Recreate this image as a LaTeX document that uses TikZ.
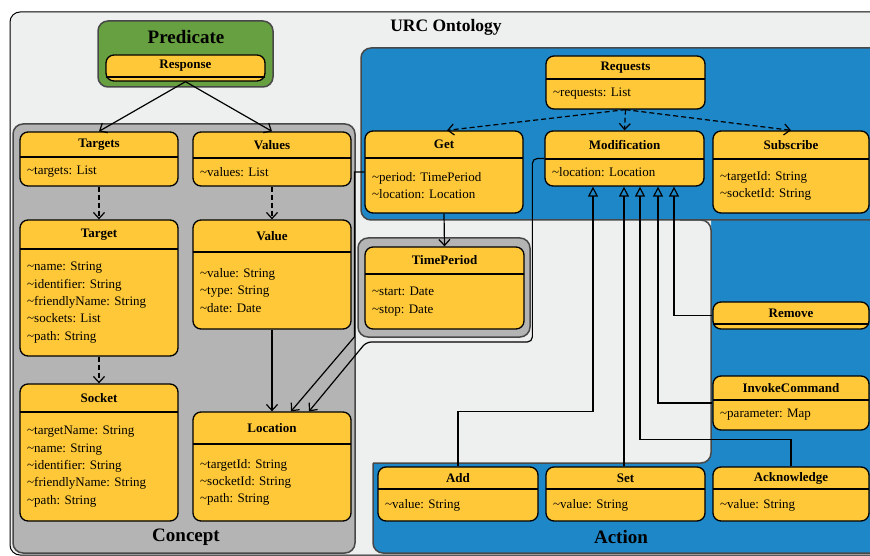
\documentclass[tikz,border=0pt]{standalone}
\usepackage{fontspec}
\setmainfont{Liberation Serif}
\usetikzlibrary{arrows.meta,calc}

\definecolor{classyellow}{RGB}{255,200,56}
\definecolor{actionblue}{RGB}{29,135,200}
\definecolor{predgreen}{RGB}{103,160,64}
\definecolor{conceptgray}{RGB}{180,180,180}
\definecolor{ontobg}{RGB}{238,239,239}
\definecolor{frameline}{RGB}{72,72,72}

\newcommand\tld{\textasciitilde}
% class box: name, left, top, right, bottom, divider, title, attributes
\newcommand\umlclass[8]{%
  \node[classbox, minimum width={(#4-#2)*1pt}, minimum height={(#5-#3)*1pt}]
    (#1) at ({(#2+#4)/2},{(#3+#5)/2}) {};
  \draw[divider] (#2,#6) -- (#4,#6);
  \node[classtitle] (#1-title) at ({(#2+#4)/2},{(#3+#6)/2}) {#7};
  \node[classbody] (#1-body) at (#2+7,{(#6+#5)/2}) {#8};
}

\begin{document}
\begin{tikzpicture}[x=1pt,y=-1pt]

    \tikzset{
      classbox/.style={
        draw=black,
        fill=classyellow,
        line width=1.3pt,
        rounded corners=8pt,
        inner sep=0pt,
      },
      divider/.style={line width=2pt},
      classtitle/.style={font=\bfseries\fontsize{13}{15}\selectfont, inner sep=0pt},
      classbody/.style={anchor=west, align=left, inner sep=0pt,
        font=\fontsize{13}{17.3}\selectfont},
      group/.style={draw=frameline, line width=1.5pt, rounded corners=10pt},
      grouplabel/.style={font=\bfseries\fontsize{19}{22}\selectfont},
      assoc/.style={line width=1.2pt, -{Straight Barb[length=6pt,width=11pt]}},
      depend/.style={assoc, dash pattern=on 5pt off 3pt},
      gen/.style={line width=1.2pt, -{Triangle[open,length=10pt,width=10pt]}},
    }
    \useasboundingbox (0,0) rectangle (870,556);
    \clip (0,0) rectangle (870,556);

    % containers
    \draw[fill=ontobg, draw=black, line width=1pt, rounded corners=10pt] (10,12) rectangle (890,555);
    \node[font=\bfseries\fontsize{17.5}{20}\selectfont] (title) at (446,27) {URC Ontology};

    \draw[group, fill=actionblue] (373,60) rectangle (890,553);
    \fill[ontobg, rounded corners=10pt] (345,210) rectangle (711,463);
    \draw[frameline, line width=1.5pt, rounded corners=10pt] (373,463) -- (711,463) -- (711,220) -- (680,220);
    \draw[group, fill=actionblue] (361,48) rectangle (890,220);
    \node[grouplabel] (action) at (621,537) {Action};

    \draw[group, fill=predgreen] (98,21) rectangle (273,87);
    \node[grouplabel] (predicate) at (186,37) {Predicate};

    \draw[group, fill=conceptgray] (13,124) rectangle (355,553);
    \node[grouplabel] (concept) at (186,537) {Concept};

    \draw[group, fill=conceptgray] (358,238) rectangle (530,337);

    % classes
    \umlclass{response}{106}{55}{265}{81}{77}{Response}{}
    \umlclass{targets}{20}{132}{178}{186}{157}{Targets}{\tld targets: List}
    \umlclass{values}{193}{132}{351}{186}{158}{Values}{\tld values: List}
    \umlclass{target}{20}{220}{178}{356}{249}{Target}{\tld name: String\\\tld identifier: String\\\tld friendlyName: String\\\tld sockets: List\\\tld path: String}
    \umlclass{value}{193}{220}{351}{329}{252}{Value}{\tld value: String\\\tld type: String\\\tld date: Date}
    \umlclass{socket}{20}{384}{178}{521}{412}{Socket}{\tld targetName: String\\\tld name: String\\\tld identifier: String\\\tld friendlyName: String\\\tld path: String}
    \umlclass{location}{193}{412}{351}{521}{444}{Location}{\tld targetId: String\\\tld socketId: String\\\tld path: String}
    \umlclass{requests}{546}{56}{705}{109}{79}{Requests}{\tld requests: List}
    \umlclass{get}{365}{131}{523}{213}{158}{Get}{\tld period: TimePeriod\\\tld location: Location}
    \umlclass{modification}{545}{131}{704}{186}{159}{Modification}{\tld location: Location}
    \umlclass{subscribe}{713}{131}{869}{213}{159}{Subscribe}{\tld targetId: String\\\tld socketId: String}
    \umlclass{timeperiod}{365}{247}{524}{329}{274}{TimePeriod}{\tld start: Date\\\tld stop: Date}
    \umlclass{remove}{713}{302}{869}{329}{324}{Remove}{}
    \umlclass{invokecommand}{713}{376}{869}{430}{400}{InvokeCommand}{\tld parameter: Map}
    \umlclass{add}{378}{467}{538}{521}{489}{Add}{\tld value: String}
    \umlclass{set}{546}{467}{705}{521}{489}{Set}{\tld value: String}
    \umlclass{acknowledge}{713}{467}{869}{521}{489}{Acknowledge}{\tld value: String}

    % associations
    \draw[assoc] (response.south) -- (targets.north);
    \draw[assoc] (response.south) -- (values.north);
    \draw[depend] (targets.south) -- (target.north);
    \draw[depend] (values.south) -- (value.north);
    \draw[depend] (target.south) -- (socket.north);
    \draw[assoc] (value.south) -- (location.north);
    \draw[assoc] (get.south) -- (timeperiod.north);
    \draw[assoc] (get.west) -- ++(-10,0) -- ++(0,165) -- ([xshift=19pt]location.north);
    \draw[assoc, rounded corners=5pt] (modification.west) -- ++(-12,0) -- ++(0,183.5) -- ++(-166,0) -- ([xshift=37pt]location.north);
    \draw[depend] (requests.south) -- ([xshift=3pt]get.north);
    \draw[depend] (requests.south) -- (modification.north);
    \draw[depend] (requests.south) -- (subscribe.north);

    % generalizations
    \draw[gen] (add.north) -- ++(0,-55) -| ([xshift=-31.5pt]modification.south);
    \draw[gen] ([xshift=-1.5pt]set.north) -- ([xshift=-1.5pt]set.north |- modification.south);
    \draw[gen] (acknowledge.north) -- ++(0,-27) -| ([xshift=15.5pt]modification.south);
    \draw[gen] (invokecommand.west) -| ([xshift=33.5pt]modification.south);
    \draw[gen] (remove.west) -| ([xshift=49.5pt]modification.south);

\end{tikzpicture}
\end{document}
